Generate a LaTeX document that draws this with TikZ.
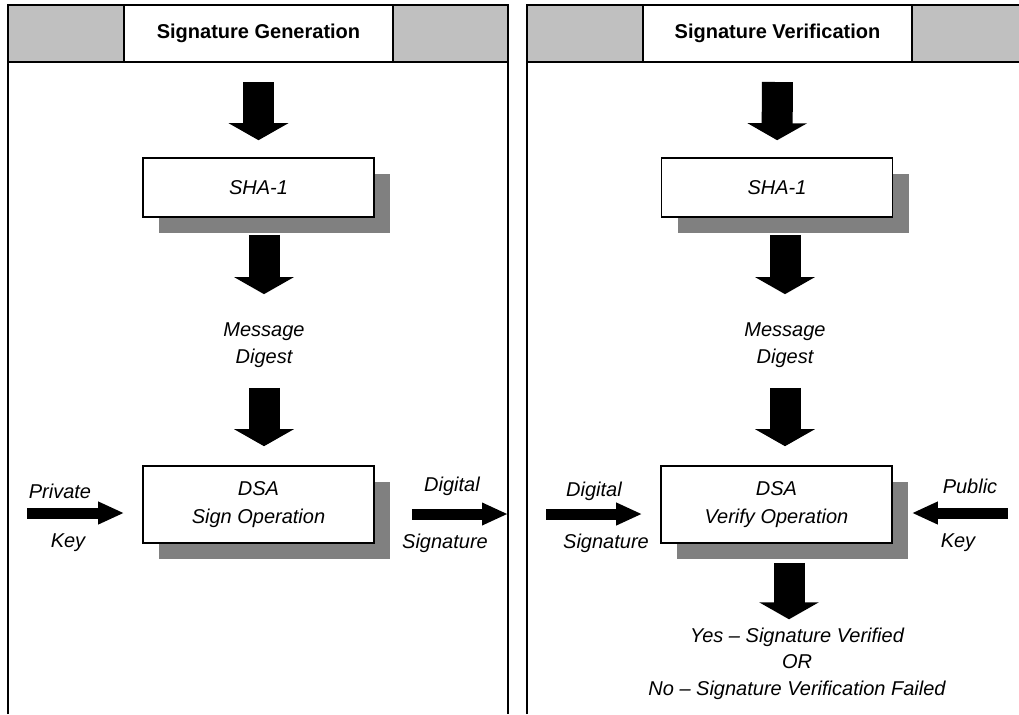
\documentclass[tikz,border=0pt]{standalone}
\usepackage{fontspec}
\setmainfont{Liberation Sans}
\usepackage{tikz}
\usetikzlibrary{arrows.meta,positioning,shadows}
\definecolor{hdrgray}{RGB}{192,192,192}
\definecolor{shadegray}{RGB}{128,128,128}
\tikzstyle{frame} = [draw, line width=1pt]
\tikzstyle{hdrcell} = [draw, line width=1pt, fill=hdrgray]
\tikzstyle{hdrtitle} = [draw, line width=1pt, fill=white, minimum width=134.5pt, minimum height=28.5pt, font=\bfseries\fontsize{10}{12}\selectfont]
\tikzstyle{procbox} = [draw, line width=0.8pt, fill=white, minimum width=115.5pt, align=center, font=\itshape\fontsize{10}{14}\selectfont, drop shadow={shadow xshift=8pt,shadow yshift=-8pt,fill=shadegray,opacity=1}]
\tikzstyle{lbl} = [inner sep=0pt, align=center, font=\itshape\fontsize{10}{13.5}\selectfont]
\tikzstyle{bigarrow} = [draw, line width=15.5pt, -{Triangle[width=29.5pt,length=8.5pt]}]
\tikzstyle{sidearrow} = [draw, line width=5.5pt, -{Triangle[width=10.5pt,length=13pt]}]
\begin{document}
\begin{tikzpicture}[x=0.5pt,y=-0.5pt]
  \useasboundingbox (0,0) rectangle (1019,714);
  \clip (0,0) rectangle (1019,714);
  % signature generation
  \draw[frame] (8,714) -- (8,5) -- (508,5) -- (508,714);
  \draw[hdrcell] (8,5) rectangle (124,62);
  \draw[hdrcell] (393,5) rectangle (508,62);
  \node[hdrtitle] (hgen) at (258.5,33.5) {Signature Generation};
  \node[procbox, minimum height=29.5pt] (shaL) at (258.5,187.5) {SHA-1};
  \node[lbl] (msgL) at (264,345) {Message\\Digest};
  \node[procbox, minimum height=38.5pt] (dsaL) at (258.5,504.5) {DSA\\Sign Operation};
  \node[lbl] (privL) at (60,491) {Private};
  \node[lbl] (privkeyL) at (68,543) {Key};
  \coordinate (privin) at (27,513);
  \node[lbl] (sigoutT) at (452,486) {Digital};
  \node[lbl] (sigoutB) at (445,543) {Signature};
  \coordinate (sigout) at (508,514);
  \draw[bigarrow, shorten <=9.5pt, shorten >=8.5pt] (hgen) -- (shaL);
  \draw[bigarrow, shorten <=8.5pt, shorten >=14pt] (shaL.south -| msgL) -- (msgL);
  \draw[bigarrow, shorten <=10pt, shorten >=9.5pt] (msgL) -- (msgL |- dsaL.north);
  \draw[sidearrow, shorten >=9pt] (privin) -- (privin -| dsaL.west);
  \draw[sidearrow, shorten <=18.5pt] (dsaL.east |- sigout) -- (sigout);
  % signature verification
  \draw[frame] (527,714) -- (527,5) -- (1030,5);
  \draw[hdrcell] (527,5) rectangle (643,62);
  \draw[hdrcell] (912,5) rectangle (1030,62);
  \node[hdrtitle] (hver) at (777.5,33.5) {Signature Verification};
  \node[procbox, minimum height=29.5pt] (shaR) at (777,187.5) {SHA-1};
  \node[lbl] (msgR) at (785,345) {Message\\Digest};
  \node[procbox, minimum height=38.5pt] (dsaR) at (776.5,504.5) {DSA\\Verify Operation};
  \node[lbl] (siginT) at (594,491) {Digital};
  \node[lbl] (siginB) at (606,543) {Signature};
  \coordinate (sigin) at (546,514);
  \node[lbl] (pubR) at (970,486) {Public};
  \node[lbl] (pubkeyR) at (958,543) {Key};
  \coordinate (pubin) at (1008,513);
  \node[lbl, font=\itshape\fontsize{10}{13.25}\selectfont] (res) at (797,663.5) {Yes -- Signature Verified\\OR\\No -- Signature Verification Failed};
  \draw[bigarrow, shorten <=9.5pt, shorten >=8.5pt] (hver) -- (shaR);
  \draw[bigarrow, shorten <=8.5pt, shorten >=14pt] (shaR.south -| msgR) -- (msgR);
  \draw[bigarrow, shorten <=10pt, shorten >=9.5pt] (msgR) -- (msgR |- dsaR.north);
  \draw[sidearrow, shorten >=9pt] (sigin) -- (sigin -| dsaR.west);
  \draw[sidearrow, shorten >=9.5pt] (pubin) -- (pubin -| dsaR.east);
  \draw[bigarrow, shorten <=9.5pt, shorten >=4pt] ([xshift=6.25pt]dsaR.south) -- ([xshift=6.25pt]dsaR.south |- res.north);
\end{tikzpicture}
\end{document}
